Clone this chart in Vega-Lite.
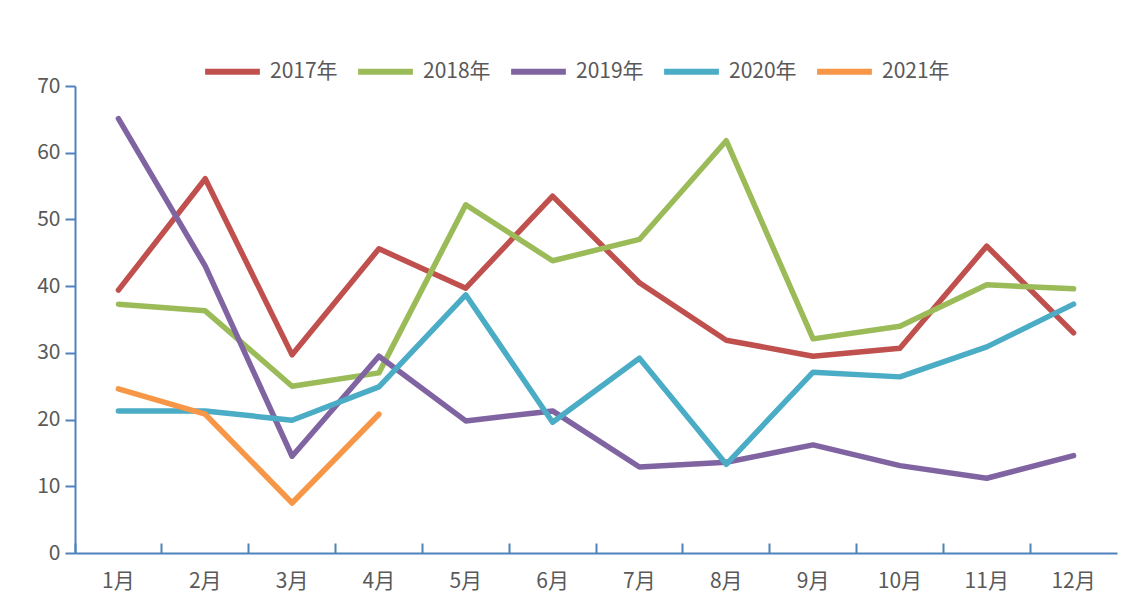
{
  "$schema": "https://vega.github.io/schema/vega-lite/v6.json",
  "width": 1042,
  "height": 467,
  "autosize": {"type": "none"},
  "padding": {"left": 75, "top": 86, "right": 23, "bottom": 56},
  "background": "white",
  "config": {
    "view": {"stroke": null},
    "font": "Noto Sans CJK SC"
  },
  "data": {
    "values": [
      {"m": "1月", "y": "2017年", "v": 39.4}, {"m": "2月", "y": "2017年", "v": 56.1}, {"m": "3月", "y": "2017年", "v": 29.7}, {"m": "4月", "y": "2017年", "v": 45.6}, {"m": "5月", "y": "2017年", "v": 39.7}, {"m": "6月", "y": "2017年", "v": 53.5}, {"m": "7月", "y": "2017年", "v": 40.5}, {"m": "8月", "y": "2017年", "v": 31.9}, {"m": "9月", "y": "2017年", "v": 29.5}, {"m": "10月", "y": "2017年", "v": 30.7}, {"m": "11月", "y": "2017年", "v": 46.0}, {"m": "12月", "y": "2017年", "v": 33.0},
      {"m": "1月", "y": "2018年", "v": 37.3}, {"m": "2月", "y": "2018年", "v": 36.3}, {"m": "3月", "y": "2018年", "v": 25.0}, {"m": "4月", "y": "2018年", "v": 27.0}, {"m": "5月", "y": "2018年", "v": 52.2}, {"m": "6月", "y": "2018年", "v": 43.8}, {"m": "7月", "y": "2018年", "v": 47.0}, {"m": "8月", "y": "2018年", "v": 61.8}, {"m": "9月", "y": "2018年", "v": 32.1}, {"m": "10月", "y": "2018年", "v": 34.0}, {"m": "11月", "y": "2018年", "v": 40.2}, {"m": "12月", "y": "2018年", "v": 39.6},
      {"m": "1月", "y": "2019年", "v": 65.1}, {"m": "2月", "y": "2019年", "v": 43.0}, {"m": "3月", "y": "2019年", "v": 14.5}, {"m": "4月", "y": "2019年", "v": 29.5}, {"m": "5月", "y": "2019年", "v": 19.8}, {"m": "6月", "y": "2019年", "v": 21.3}, {"m": "7月", "y": "2019年", "v": 12.9}, {"m": "8月", "y": "2019年", "v": 13.6}, {"m": "9月", "y": "2019年", "v": 16.2}, {"m": "10月", "y": "2019年", "v": 13.1}, {"m": "11月", "y": "2019年", "v": 11.2}, {"m": "12月", "y": "2019年", "v": 14.6},
      {"m": "1月", "y": "2020年", "v": 21.3}, {"m": "2月", "y": "2020年", "v": 21.3}, {"m": "3月", "y": "2020年", "v": 19.9}, {"m": "4月", "y": "2020年", "v": 24.9}, {"m": "5月", "y": "2020年", "v": 38.7}, {"m": "6月", "y": "2020年", "v": 19.6}, {"m": "7月", "y": "2020年", "v": 29.2}, {"m": "8月", "y": "2020年", "v": 13.3}, {"m": "9月", "y": "2020年", "v": 27.1}, {"m": "10月", "y": "2020年", "v": 26.4}, {"m": "11月", "y": "2020年", "v": 30.9}, {"m": "12月", "y": "2020年", "v": 37.3},
      {"m": "1月", "y": "2021年", "v": 24.6}, {"m": "2月", "y": "2021年", "v": 20.8}, {"m": "3月", "y": "2021年", "v": 7.5}, {"m": "4月", "y": "2021年", "v": 20.8}
    ]
  },
  "mark": {"type": "line", "strokeWidth": 5.5, "strokeCap": "round", "strokeJoin": "round"},
  "encoding": {
    "x": {
      "field": "m", "type": "nominal",
      "sort": ["1月","2月","3月","4月","5月","6月","7月","8月","9月","10月","11月","12月"],
      "scale": {"type": "band", "paddingInner": 0, "paddingOuter": 0},
      "axis": {
        "title": null, "labelAngle": 0, "bandPosition": 0,
        "domainColor": "#4F81BD", "domainWidth": 2,
        "tickColor": "#4F81BD", "tickWidth": 2, "tickSize": -10,
        "labelColor": "#595959", "labelFontSize": 21, "labelPadding": 27,
        "labelFont": "Noto Sans CJK SC"
      }
    },
    "y": {
      "field": "v", "type": "quantitative",
      "scale": {"domain": [0, 70], "nice": false},
      "axis": {
        "title": null, "values": [0,10,20,30,40,50,60,70], "grid": false,
        "domainColor": "#4F81BD", "domainWidth": 2,
        "tickColor": "#4F81BD", "tickWidth": 2, "tickSize": 10,
        "labelColor": "#595959", "labelFontSize": 21, "labelPadding": 5,
        "labelFont": "Noto Sans CJK SC"
      }
    },
    "color": {
      "field": "y", "type": "nominal",
      "scale": {"domain": ["2017年","2018年","2019年","2020年","2021年"], "range": ["#C0504D","#9BBB59","#8064A2","#4BACC6","#F79646"]},
      "legend": {
        "title": null, "orient": "none", "legendX": 127, "legendY": -45,
        "direction": "horizontal", "columns": 5, "columnPadding": 8,
        "symbolType": "stroke", "symbolSize": 3000, "symbolStrokeWidth": 6,
        "labelFontSize": 21, "labelColor": "#595959", "labelOffset": 7,
        "labelFont": "Noto Sans CJK SC"
      }
    }
  }
}
